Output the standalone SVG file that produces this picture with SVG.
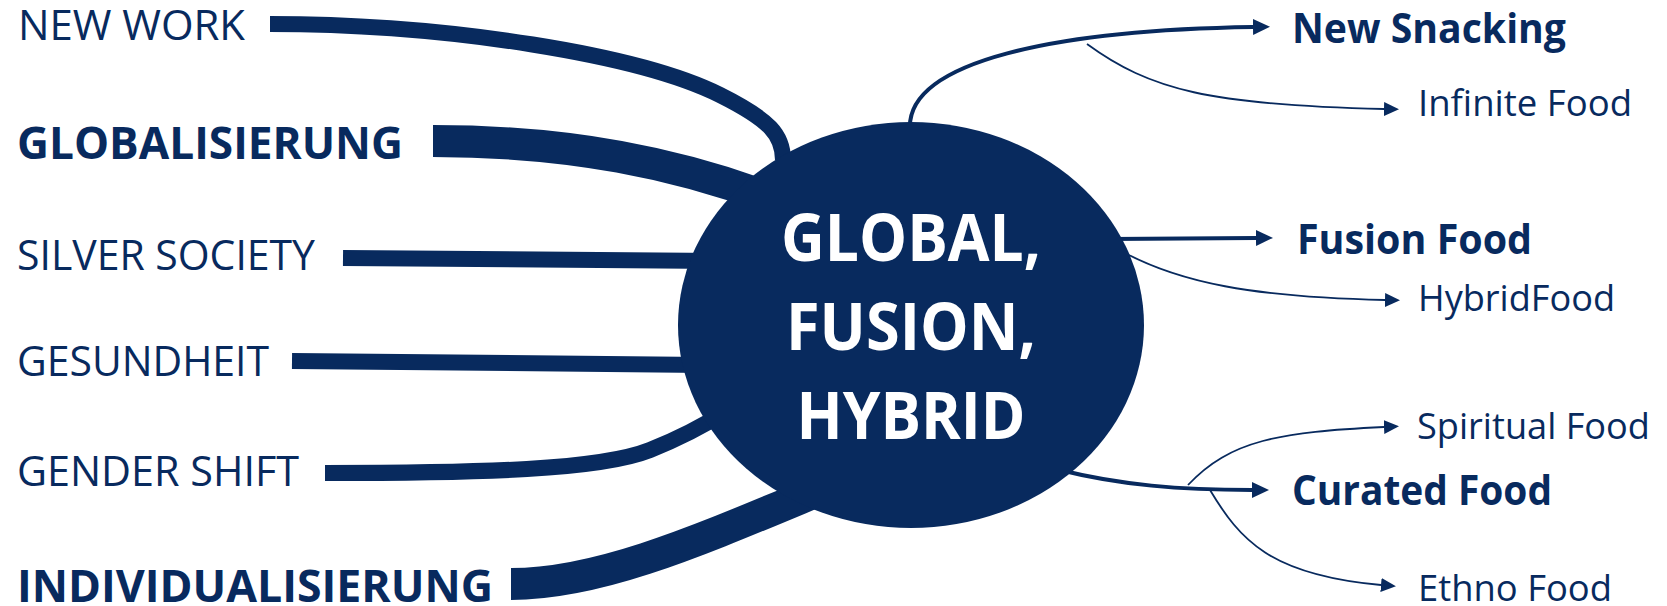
<svg xmlns="http://www.w3.org/2000/svg" width="1667" height="606" viewBox="0 0 1667 606">
<style>
.lbl{font-family:"Open Sans","Liberation Sans",sans-serif;fill:#082A5E}
.reg{font-weight:400}
.bold{font-weight:700}
.ctr{font-family:"Open Sans","Liberation Sans",sans-serif;font-weight:700;fill:#ffffff;font-size:67px;text-anchor:middle}
.band{fill:none;stroke:#082A5E;stroke-linecap:butt}
.thick{fill:none;stroke:#082A5E;stroke-width:4}
.thin{fill:none;stroke:#082A5E;stroke-width:1.8}
</style>
<defs>
<marker id="ah" markerUnits="userSpaceOnUse" markerWidth="17" markerHeight="16" refX="0" refY="8" orient="auto">
<path d="M0,0 L17,8 L0,16 z" fill="#082A5E"/>
</marker>
<marker id="ahs" markerUnits="userSpaceOnUse" markerWidth="15" markerHeight="14" refX="0" refY="7" orient="auto">
<path d="M0,0 L15,7 L0,14 z" fill="#082A5E"/>
</marker>
</defs>
<rect width="1667" height="606" fill="#ffffff"/>
<g id="connectors">
<path class="band" stroke-width="16" d="M270,24 C450,24 640,55 720,95 C770,120 783,135 783,160"/>
<path class="band" stroke-width="32" d="M433,141 C560,141 680,160 800,210"/>
<path class="band" stroke-width="16" d="M343,258 L720,261"/>
<path class="band" stroke-width="16" d="M292,361 L705,365"/>
<path class="band" stroke-width="16" d="M325,473 C480,473 600,470 650,450 C680,438 700,428 725,412"/>
<path class="band" stroke-width="32" d="M511,584 C600,584 700,540 820,490"/>
<path class="thick" marker-end="url(#ah)" d="M910,130 C905,60 1060,30 1253,27"/>
<path class="thin" marker-end="url(#ahs)" d="M1087,44 C1150,90 1210,105 1384,109"/>
<path class="thick" marker-end="url(#ah)" d="M1110,239 L1256,238"/>
<path class="thin" marker-end="url(#ahs)" d="M1125,253 C1180,282 1250,297 1385,300"/>
<path class="thick" marker-end="url(#ah)" d="M1060,470 C1120,485 1180,490 1252,490"/>
<path class="thin" marker-end="url(#ahs)" d="M1188,485 C1230,440 1280,432 1384,427"/>
<path class="thin" marker-end="url(#ahs)" d="M1210,490 C1240,540 1270,575 1381,585"/>
</g>
<g id="center">
<ellipse cx="911" cy="325" rx="233" ry="203" fill="#082A5E"/>
<text class="ctr" x="911" y="261" textLength="260" lengthAdjust="spacingAndGlyphs">GLOBAL,</text>
<text class="ctr" x="911" y="350" textLength="250" lengthAdjust="spacingAndGlyphs">FUSION,</text>
<text class="ctr" x="911" y="439" textLength="229" lengthAdjust="spacingAndGlyphs">HYBRID</text>
</g>
<g id="new-work"><text class="lbl reg" x="18" y="40" font-size="42" textLength="227" lengthAdjust="spacingAndGlyphs">NEW WORK</text></g>
<g id="globalisierung"><text class="lbl bold" x="17" y="159" font-size="45" textLength="386" lengthAdjust="spacingAndGlyphs">GLOBALISIERUNG</text></g>
<g id="silver-society"><text class="lbl reg" x="17" y="270" font-size="42" textLength="298" lengthAdjust="spacingAndGlyphs">SILVER SOCIETY</text></g>
<g id="gesundheit"><text class="lbl reg" x="17" y="376" font-size="42" textLength="252" lengthAdjust="spacingAndGlyphs">GESUNDHEIT</text></g>
<g id="gender-shift"><text class="lbl reg" x="17" y="486" font-size="42" textLength="282" lengthAdjust="spacingAndGlyphs">GENDER SHIFT</text></g>
<g id="individualisierung"><text class="lbl bold" x="17" y="602" font-size="45" textLength="476" lengthAdjust="spacingAndGlyphs">INDIVIDUALISIERUNG</text></g>
<g id="new-snacking"><text class="lbl bold" x="1292" y="43" font-size="42" textLength="274" lengthAdjust="spacingAndGlyphs">New Snacking</text></g>
<g id="infinite-food"><text class="lbl reg" x="1418" y="116" font-size="37" textLength="214" lengthAdjust="spacingAndGlyphs">Infinite Food</text></g>
<g id="fusion-food"><text class="lbl bold" x="1297" y="254" font-size="42" textLength="235" lengthAdjust="spacingAndGlyphs">Fusion Food</text></g>
<g id="hybrid-food"><text class="lbl reg" x="1418" y="311" font-size="37" textLength="197" lengthAdjust="spacingAndGlyphs">HybridFood</text></g>
<g id="spiritual-food"><text class="lbl reg" x="1417" y="439" font-size="37" textLength="233" lengthAdjust="spacingAndGlyphs">Spiritual Food</text></g>
<g id="curated-food"><text class="lbl bold" x="1292" y="505" font-size="42" textLength="260" lengthAdjust="spacingAndGlyphs">Curated Food</text></g>
<g id="ethno-food"><text class="lbl reg" x="1418" y="601" font-size="37" textLength="194" lengthAdjust="spacingAndGlyphs">Ethno Food</text></g>
</svg>
